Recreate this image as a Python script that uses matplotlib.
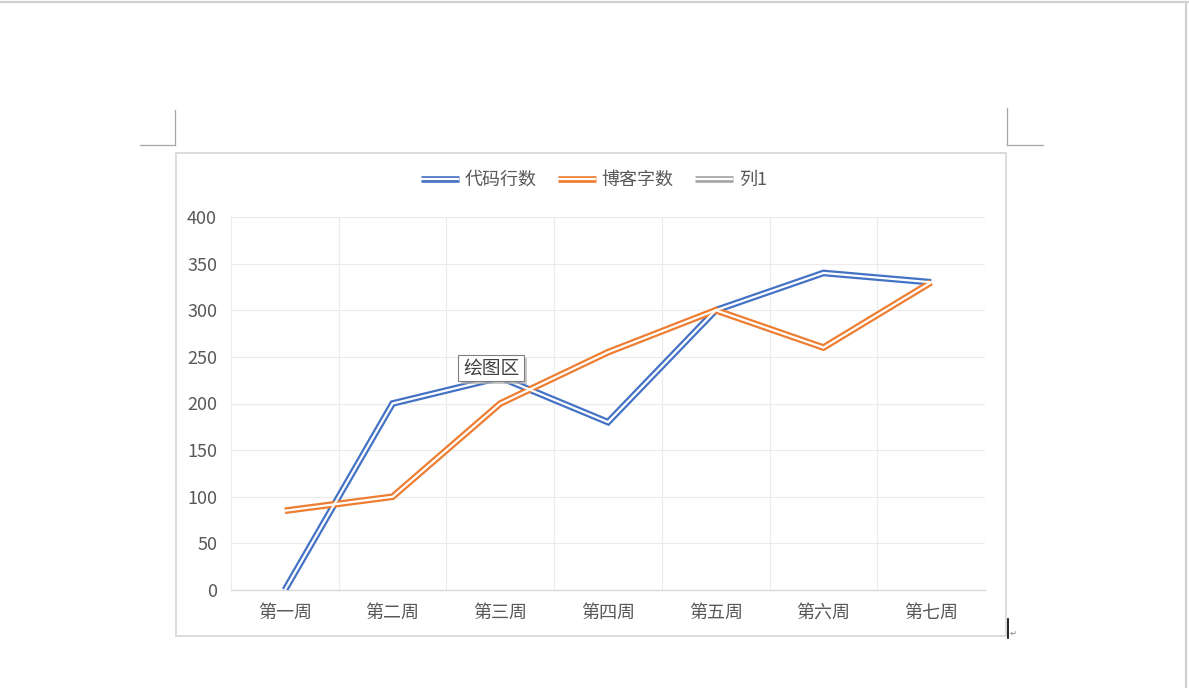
import matplotlib
matplotlib.use("Agg")
import matplotlib.pyplot as plt
from matplotlib.lines import Line2D
from matplotlib.patches import Rectangle

plt.rcParams['font.family'] = ['Noto Sans CJK SC', 'DejaVu Sans']

categories = ["第一周", "第二周", "第三周", "第四周", "第五周", "第六周", "第七周"]
code_lines = [0, 200, 228, 180, 300, 340, 330]
blog_words = [85, 100, 200, 255, 300, 260, 330]
series_names = ["代码行数", "博客字数", "列1"]
series_colors = ["#4472C4", "#ED7D31", "#A5A5A5"]
y_ticks = [0, 50, 100, 150, 200, 250, 300, 350, 400]

W, H = 1189, 688
fig = plt.figure(figsize=(W / 100, H / 100), dpi=100)
fig.patch.set_facecolor("white")

def fx(x):
    return x / W

def fy(y):
    return 1 - y / H

# page decorations
fig.add_artist(Line2D([0, 1], [fy(2), fy(2)], transform=fig.transFigure, color="#d0d0d0", lw=1.5))
fig.add_artist(Line2D([fx(1186), fx(1186)], [0, fy(2)], transform=fig.transFigure, color="#d0d0d0", lw=1.5))
for xs, ys in [([175, 175], [110, 145]), ([140, 175], [145, 145]),
               ([1007, 1007], [108, 145]), ([1007, 1043], [145, 145])]:
    fig.add_artist(Line2D([fx(v) for v in xs], [fy(v) for v in ys], transform=fig.transFigure,
                          color="#a6a6a6", lw=0.9))

# chart frame
fig.add_artist(Rectangle((fx(176), fy(636)), fx(1006) - fx(176), fy(153) - fy(636),
                         transform=fig.transFigure, facecolor="none", edgecolor="#d9d9d9", lw=1.3))

# cursor + paragraph mark
fig.add_artist(Line2D([fx(1007.5), fx(1007.5)], [fy(619), fy(638)], transform=fig.transFigure, color="black", lw=1.2))
fig.text(fx(1010), fy(633), "↵", fontsize=6, color="#808080", va="center", ha="left", family=["DejaVu Sans"])

ax = fig.add_axes([fx(231), fy(590), fx(985) - fx(231), fy(217) - fy(590)])
ax.set_xlim(-0.5, len(categories) - 0.5)
ax.set_ylim(0, 400)
ax.set_yticks(y_ticks)
ax.set_yticklabels([str(v) for v in y_ticks])
ax.set_xticks(range(len(categories)))
ax.set_xticklabels(categories)
ax.set_xticks([i - 0.5 for i in range(len(categories) + 1)], minor=True)
ax.grid(True, which="major", axis="y", color="#ebebeb", lw=0.8)
ax.grid(True, which="minor", axis="x", color="#ebebeb", lw=0.8)
ax.tick_params(axis="both", which="both", length=0, colors="#595959", labelsize=13)
ax.tick_params(axis="y", pad=10)
ax.tick_params(axis="x", pad=10)
for s in ["top", "left", "right"]:
    ax.spines[s].set_visible(False)
ax.spines["bottom"].set_color("#d9d9d9")
ax.spines["bottom"].set_linewidth(1)
ax.set_axisbelow(True)

OUTER, INNER = 4.8, 1.6
x = list(range(len(categories)))
for vals, c in [(code_lines, series_colors[0]), (blog_words, series_colors[1])]:
    ax.plot(x, vals, color=c, lw=OUTER, solid_joinstyle="miter", solid_capstyle="butt", zorder=3)
    ax.plot(x, vals, color="white", lw=INNER, solid_joinstyle="miter", solid_capstyle="butt", zorder=4)

handles = [(Line2D([], [], color=c, lw=OUTER, solid_capstyle="butt"),
            Line2D([], [], color="white", lw=INNER, solid_capstyle="butt")) for c in series_colors]
fig.legend(handles, series_names, loc="center", bbox_to_anchor=(fx(594), fy(180)), ncol=3,
           frameon=False, fontsize=13, handlelength=2.1, handletextpad=0.3, columnspacing=1.2,
           labelcolor="#595959")

# tooltip "绘图区"
fig.add_artist(Rectangle((fx(461), fy(384)), fx(524) - fx(458), fy(355) - fy(381),
                         transform=fig.transFigure, facecolor="#b0b0b0", edgecolor="none", alpha=0.7, zorder=10))
fig.add_artist(Rectangle((fx(458), fy(381)), fx(524) - fx(458), fy(355) - fy(381),
                         transform=fig.transFigure, facecolor="white", edgecolor="#7f7f7f", lw=0.8, zorder=11))
fig.text(fx(491), fy(368), "绘图区", fontsize=13.5, color="#404040", ha="center", va="center", zorder=12)

fig.savefig("out.png", dpi=100)
